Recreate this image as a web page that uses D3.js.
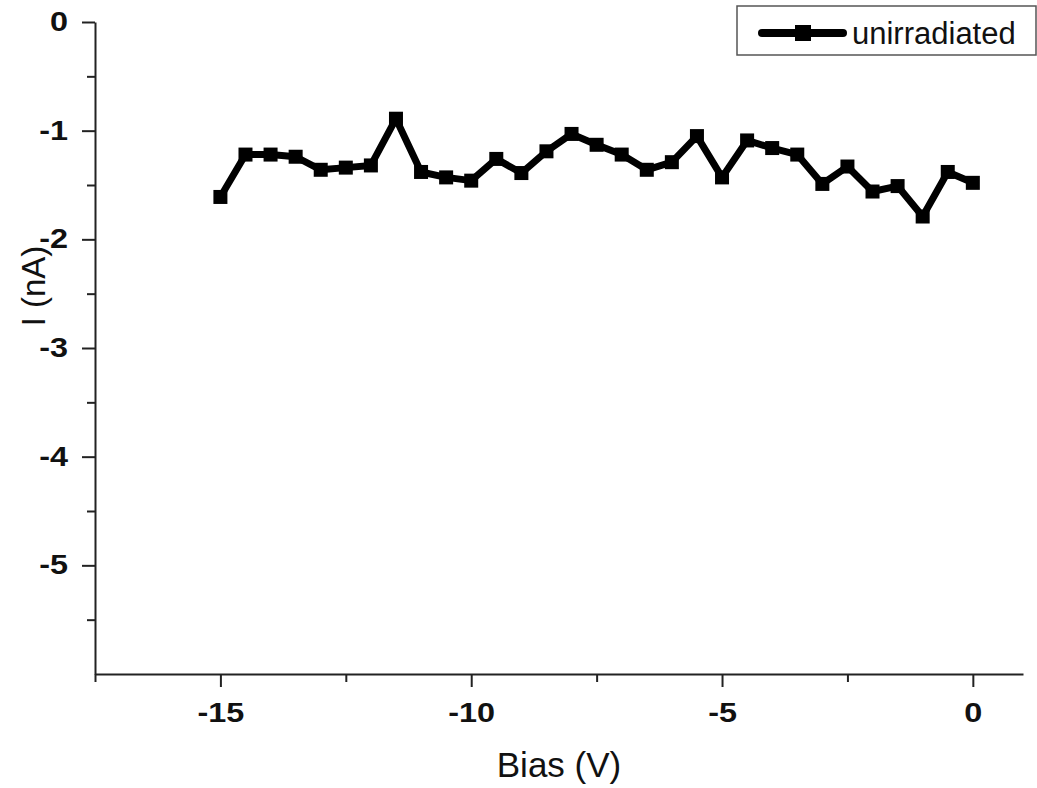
<!DOCTYPE html>
<html>
<head>
<meta charset="utf-8">
<script src="https://cdn.jsdelivr.net/npm/d3@7"></script>
<style>
	body { margin: 0; background: #fff; }
	svg { display: block; font-family: "Liberation Sans", Arial, sans-serif; }
	.axis path, .axis line { stroke: #222; stroke-width: 2px; }
	.axis text { font-family: "Liberation Sans", Arial, sans-serif; font-size: 27px; font-weight: bold; fill: #111; }
	.title { font-size: 35px; fill: #111; }
	.series { fill: none; stroke: #000; stroke-width: 7px; stroke-linejoin: round; stroke-linecap: round; }
</style>
</head>
<body>
<svg width="1037" height="788"></svg>
<script>
// bias (V) and measured current (nA)
var bias = [-15, -14.5, -14, -13.5, -13, -12.5, -12, -11.5, -11, -10.5, -10, -9.5, -9, -8.5, -8, -7.5,
	-7, -6.5, -6, -5.5, -5, -4.5, -4, -3.5, -3, -2.5, -2, -1.5, -1, -0.5, 0];
var current = [-1.61, -1.22, -1.22, -1.24, -1.36, -1.34, -1.32, -0.89, -1.38, -1.43, -1.46, -1.26, -1.39, -1.19,
	-1.03, -1.13, -1.22, -1.36, -1.29, -1.05, -1.43, -1.09, -1.16, -1.22, -1.49, -1.33, -1.56, -1.51, -1.79, -1.38, -1.48];
var seriesName = "unirradiated";
var xMajor = [-15, -10, -5, 0];
var xMinor = [-17.5, -12.5, -7.5, -2.5];
var yMajor = [0, -1, -2, -3, -4, -5];
var yMinor = [-0.5, -1.5, -2.5, -3.5, -4.5, -5.5];

var svg = d3.select("svg");
var stretch = 1.2; // the original labels are a bit wide

var x = d3.scaleLinear().domain([-17.5, 1]).range([95, 1023]);
var y = d3.scaleLinear().domain([-6, 0]).range([674, 22]);

// x axis
svg.append("g").attr("class", "axis")
	.attr("transform", "translate(0," + y(-6) + ")")
	.call(d3.axisBottom(x).tickValues(xMinor).tickSize(8).tickSizeOuter(0).tickFormat(""));
svg.append("g").attr("class", "axis")
	.attr("transform", "translate(0," + y(-6) + ")")
	.call(d3.axisBottom(x).tickValues(xMajor).tickSize(13).tickSizeOuter(0).tickPadding(16).tickFormat(d3.format("d")))
	.call(function(g) { g.select(".domain").remove(); })
	.selectAll("text").attr("transform", "scale(" + stretch + ",1)");

// y axis
svg.append("g").attr("class", "axis")
	.attr("transform", "translate(" + x(-17.5) + ",0)")
	.call(d3.axisLeft(y).tickValues(yMinor).tickSize(8).tickSizeOuter(0).tickFormat(""));
svg.append("g").attr("class", "axis")
	.attr("transform", "translate(" + x(-17.5) + ",0)")
	.call(d3.axisLeft(y).tickValues(yMajor).tickSize(13).tickSizeOuter(0).tickPadding(14).tickFormat(d3.format("d")))
	.call(function(g) { g.select(".domain").remove(); })
	.selectAll("text")
	.attr("x", -27 / stretch)
	.attr("transform", "scale(" + stretch + ",1)");

svg.selectAll("text").filter(function() { return this.textContent.charAt(0) == "−"; })
	.text(function() { return "-" + this.textContent.slice(1); });

// titles
svg.append("text").attr("class", "title")
	.attr("x", (x(-17.5) + x(1)) / 2).attr("y", 777)
	.attr("text-anchor", "middle")
	.text("Bias (V)");
svg.append("text").attr("class", "title")
	.attr("transform", "translate(45,286) rotate(-90)")
	.attr("text-anchor", "middle")
	.style("font-size", "33px")
	.text("I (nA)");

// data
var pts = bias.map(function(b, i) { return [b, current[i]]; });
var line = d3.line().x(function(d) { return x(d[0]); }).y(function(d) { return y(d[1]); });
svg.append("path").attr("class", "series").attr("d", line(pts));
svg.selectAll(".pt").data(pts).enter().append("rect")
	.attr("class", "pt")
	.attr("x", function(d) { return x(d[0]) - 7; })
	.attr("y", function(d) { return y(d[1]) - 7; })
	.attr("width", 14).attr("height", 14)
	.attr("fill", "#000");

// legend
var lg = svg.append("g").attr("transform", "translate(737,6)");
lg.append("rect").attr("width", 299).attr("height", 49)
	.attr("fill", "#fff").attr("stroke", "#555").attr("stroke-width", 1.5);
lg.append("line").attr("x1", 25).attr("x2", 106).attr("y1", 27).attr("y2", 27)
	.attr("stroke", "#000").attr("stroke-width", 8).attr("stroke-linecap", "round");
lg.append("rect").attr("x", 58).attr("y", 19).attr("width", 16).attr("height", 16).attr("fill", "#000");
lg.append("text").attr("x", 115).attr("y", 38)
	.style("font-size", "31px").attr("fill", "#111")
	.text(seriesName);
</script>
</body>
</html>
